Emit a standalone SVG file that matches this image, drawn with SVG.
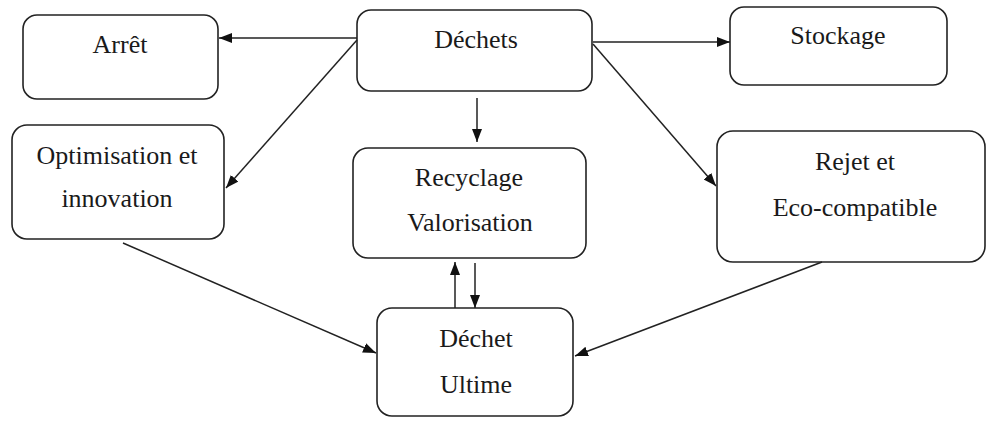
<svg xmlns="http://www.w3.org/2000/svg" width="987" height="421" viewBox="0 0 987 421">
<style>
.box{fill:#fff;stroke:#222;stroke-width:1.6}
.lbl{font-family:"Liberation Serif","Times New Roman",serif;font-size:26px;fill:#1a1a1a;text-anchor:middle}
.edge{stroke:#222;stroke-width:1.5;fill:none;marker-end:url(#ah)}
</style>
<defs>
<marker id="ah" markerUnits="userSpaceOnUse" markerWidth="14" markerHeight="11" refX="13" refY="5" orient="auto">
<path d="M0,0 L13,5 L0,10 z" fill="#111"/>
</marker>
</defs>
<rect width="987" height="421" fill="#fff"/>
<g id="arret"><rect class="box" x="23" y="15" width="195" height="84" rx="14"/><text class="lbl" x="120" y="53">Arrêt</text></g>
<g id="dechets"><rect class="box" x="357" y="10" width="235" height="81" rx="14"/><text class="lbl" x="476" y="48">Déchets</text></g>
<g id="stockage"><rect class="box" x="730" y="7" width="217" height="78" rx="14"/><text class="lbl" x="838" y="44">Stockage</text></g>
<g id="optimisation"><rect class="box" x="12" y="125" width="212" height="114" rx="15"/><text class="lbl" x="117" y="164">Optimisation et</text><text class="lbl" x="117" y="207">innovation</text></g>
<g id="recyclage"><rect class="box" x="353" y="148" width="233" height="110" rx="15"/><text class="lbl" x="469" y="186">Recyclage</text><text class="lbl" x="470" y="231">Valorisation</text></g>
<g id="rejet"><rect class="box" x="717" y="131" width="268" height="131" rx="16"/><text class="lbl" x="855" y="170">Rejet et</text><text class="lbl" x="855" y="216">Eco-compatible</text></g>
<g id="ultime"><rect class="box" x="377" y="308" width="196" height="108" rx="15"/><text class="lbl" x="476" y="347">Déchet</text><text class="lbl" x="476" y="393">Ultime</text></g>
<g id="connectors">
<path class="edge" d="M357,38 L219,38"/>
<path class="edge" d="M357,40 L226,188"/>
<path class="edge" d="M477,98 L477,142"/>
<path class="edge" d="M593,42 L730,42"/>
<path class="edge" d="M593,44 L716,186"/>
<path class="edge" d="M123,243 L376,353"/>
<path class="edge" d="M822,262 L575,356"/>
<path class="edge" d="M455,308 L455,262"/>
<path class="edge" d="M475,263 L475,308"/>
</g>
</svg>
